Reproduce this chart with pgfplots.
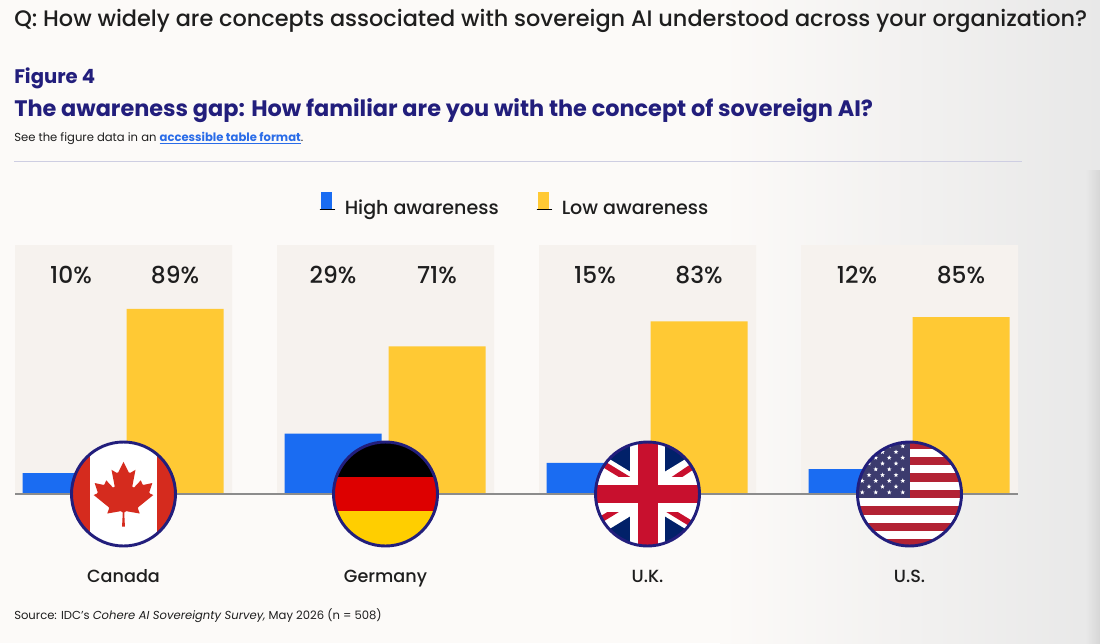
\documentclass[border=0pt]{standalone}
\usepackage{pgfplots}
\pgfplotsset{compat=1.18}
\usepackage{fontspec}
\setmainfont{Poppins}
\newfontfamily\pmed{Poppins Medium}
\usetikzlibrary{shapes.geometric}

\definecolor{hiblue}{HTML}{1A6CF2}
\definecolor{loyellow}{HTML}{FFC934}
\definecolor{panel}{HTML}{F6F2EE}
\definecolor{navy}{HTML}{221E7C}
\definecolor{ink}{HTML}{1E1E1E}
\definecolor{bg}{HTML}{FCFAF8}
\definecolor{linkblue}{HTML}{2A6CE8}
\definecolor{cared}{HTML}{D52B1E}
\definecolor{deblack}{HTML}{000000}
\definecolor{dered}{HTML}{DD0000}
\definecolor{degold}{HTML}{FFCE00}
\definecolor{ukblue}{HTML}{012169}
\definecolor{ukred}{HTML}{C8102E}
\definecolor{usred}{HTML}{B22234}
\definecolor{usblue}{HTML}{3C3B6E}

\pgfplotsset{
  barkey/.style={legend image code/.code={
      \fill (0pt,-0.5pt) rectangle (8.5pt,12.5pt);
      \draw[black, line width=1pt] (-0.8pt,-0.8pt) -- (11pt,-0.8pt);
      \path (16pt,0pt);}},
}

\begin{document}
\begin{tikzpicture}
% page, 1 unit = 1 px of the reference, y pointing down
\begin{scope}[x=0.75pt,y=-0.75pt]
  \fill[bg] (0,0) rectangle (1100,643);
  \shade[left color=bg, right color=black!9] (720,0) rectangle (1100,643);
  \shade[left color=black!9, right color=black!16] (1086,170) rectangle (1100,643);

  \node[anchor=base west, inner sep=0, text=ink, font=\fontsize{16.8}{19}\pmed] at (14,26)
    {Q: How widely are concepts associated with sovereign AI understood across your organization?};
  \node[anchor=base west, inner sep=0, text=navy, font=\fontsize{14.7}{17}\selectfont\bfseries] at (14,83.3)
    {Figure 4};
  \node[anchor=base west, inner sep=0, text=navy, font=\fontsize{16.8}{20}\selectfont\bfseries] at (14,116.7)
    {The awareness gap: How familiar are you with the concept of sovereign AI?};
  \node[anchor=base west, inner sep=0, text=ink, font=\fontsize{8.7}{10}\selectfont] at (14,141.7)
    {See the figure data in an \textcolor{linkblue}{\bfseries\underline{accessible table format}}.};
  \draw[navy!22, line width=0.75pt] (14,161) -- (1022,161);

  \node[anchor=base west, inner sep=0, text=ink, font=\fontsize{8.7}{10}\selectfont] at (14,619.5)
    {Source: IDC’s \textit{Cohere AI Sovereignty Survey,} May 2026 (n = 508)};
\end{scope}

\begin{axis}[
  at={(11.25pt,-370.5pt)}, anchor=south west,
  width=752.25pt, height=186.75pt, scale only axis,
  xmin=15, xmax=1018, ymin=0, ymax=119.7,
  axis lines=none, clip=false,
  legend style={at={(0.4985,1.158)}, anchor=center, draw=none, fill=none,
    text=ink, font=\fontsize{14.3}{16}\pmed,
    /tikz/every even column/.append style={column sep=26pt}},
  legend columns=2,
]
% panels
\addplot[ybar, bar width=217, bar shift=0pt, fill=panel, draw=none, forget plot]
  coordinates {(123.5,119.7) (385.5,119.7) (647.5,119.7) (909.5,119.7)};
% High awareness
\addplot[ybar, bar width=97, bar shift=0pt, fill=hiblue, draw=none, barkey]
  coordinates {(71,10) (333,29) (595,15) (857,12)};
\addlegendentry{High awareness}
% Low awareness
\addplot[ybar, bar width=97, bar shift=0pt, fill=loyellow, draw=none, barkey]
  coordinates {(175,89) (437,71) (699,83) (961,85)};
\addlegendentry{Low awareness}
% value labels
\addplot[draw=none, mark=none, forget plot, nodes near coords, point meta=explicit symbolic,
  nodes near coords style={anchor=base, inner sep=0, text=ink, font=\fontsize{17.5}{20}\pmed}]
  coordinates {(71,101.3)[10\%] (175,101.3)[89\%] (333,101.3)[29\%] (437,101.3)[71\%]
               (595,101.3)[15\%] (699,101.3)[83\%] (857,101.3)[12\%] (961,101.3)[85\%]};
\draw[black!45, line width=1.5pt] (axis cs:15,0) -- (axis cs:1018,0);
\end{axis}

\begin{scope}[x=0.75pt,y=-0.75pt]
  % Canada
  \begin{scope}
    \clip (123.5,494) circle (52);
    \fill[white] (60,430) rectangle (190,560);
    \fill[cared] (60,430) rectangle (90,560);
    \fill[cared] (157,430) rectangle (190,560);
    \begin{scope}[shift={(123.5,494)}, scale=0.016]
      \fill[cared] (-90,2030) -- (-45,1167) -- (-156,1069) -- (-1015,1220) -- (-899,900)
        -- (-919,827) -- (-1860,65) -- (-1648,-34) -- (-1614,-113) -- (-1800,-685)
        -- (-1258,-570) -- (-1185,-608) -- (-1080,-855) -- (-657,-401) -- (-546,-458)
        -- (-750,-1510) -- (-423,-1321) -- (-332,-1348) -- (0,-2000) -- (332,-1348)
        -- (423,-1321) -- (750,-1510) -- (546,-458) -- (657,-401) -- (1080,-855)
        -- (1185,-608) -- (1258,-570) -- (1800,-685) -- (1614,-113) -- (1648,-34)
        -- (1860,65) -- (919,827) -- (899,900) -- (1015,1220) -- (156,1069)
        -- (45,1167) -- (90,2030) -- cycle;
    \end{scope}
  \end{scope}
  \draw[navy, line width=2.2pt] (123.5,494) circle (52);
  \node[anchor=base, inner sep=0, text=ink, font=\fontsize{13.2}{15}\pmed] at (123.5,582) {Canada};

  % Germany
  \begin{scope}
    \clip (385.5,494) circle (52);
    \fill[deblack] (320,430) rectangle (450,477);
    \fill[dered] (320,477) rectangle (450,511);
    \fill[degold] (320,511) rectangle (450,560);
  \end{scope}
  \draw[navy, line width=2.2pt] (385.5,494) circle (52);
  \node[anchor=base, inner sep=0, text=ink, font=\fontsize{13.2}{15}\pmed] at (385.5,582) {Germany};

  % U.K.
  \begin{scope}
    \clip (647.5,494) circle (52);
    \fill[ukblue] (580,430) rectangle (715,560);
    \draw[white, line width=15pt] (557.5,439) -- (737.5,549) (557.5,549) -- (737.5,439);
    \draw[ukred, line width=4.5pt] (557.5,436) -- (647.5,491) (647.5,497) -- (737.5,552)
                                    (557.5,546) -- (647.5,491) (647.5,497) -- (737.5,436);
    \fill[white] (630,430) rectangle (665,560);
    \fill[white] (580,476.5) rectangle (715,511.5);
    \fill[ukred] (637.5,430) rectangle (657.5,560);
    \fill[ukred] (580,485) rectangle (715,503);
  \end{scope}
  \draw[navy, line width=2.2pt] (647.5,494) circle (52);
  \node[anchor=base, inner sep=0, text=ink, font=\fontsize{13.2}{15}\pmed] at (647.5,582) {U.K.};

  % U.S.
  \begin{scope}
    \clip (909.5,494) circle (52);
    \fill[white] (840,430) rectangle (980,560);
    \foreach \i in {0,2,...,12} {
      \fill[usred] (840,{440.5+\i*8.23}) rectangle (980,{440.5+(\i+1)*8.23});
    }
    \fill[usblue] (828,430) rectangle (909.5,498.1);
    \foreach \r in {0,2,4,6,8} {
      \foreach \j in {0,...,5} {
        \node[star, star points=5, star point ratio=2.3, fill=white, inner sep=0pt, minimum size=3.6pt]
          at ({909.5-81+6.75*(1+2*\j)},{440.5+5.76*(\r+1)}) {};
      }
    }
    \foreach \r in {1,3,5,7} {
      \foreach \j in {0,...,4} {
        \node[star, star points=5, star point ratio=2.3, fill=white, inner sep=0pt, minimum size=3.6pt]
          at ({909.5-81+6.75*(2+2*\j)},{440.5+5.76*(\r+1)}) {};
      }
    }
  \end{scope}
  \draw[navy, line width=2.2pt] (909.5,494) circle (52);
  \node[anchor=base, inner sep=0, text=ink, font=\fontsize{13.2}{15}\pmed] at (909.5,582) {U.S.};
\end{scope}
\end{tikzpicture}
\end{document}
